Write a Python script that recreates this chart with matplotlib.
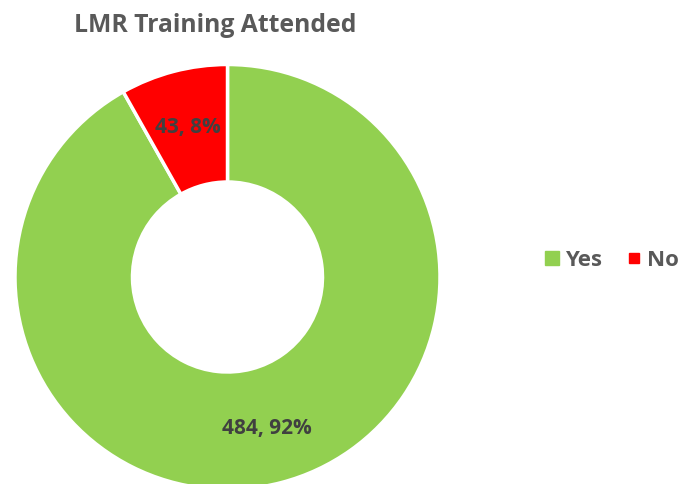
import matplotlib
matplotlib.use("Agg")
import matplotlib.pyplot as plt
from matplotlib.lines import Line2D

title = "LMR Training Attended"
categories = ["Yes", "No"]
values = [484, 43]
colors = ["#92D050", "#FF0000"]

FONT = ["Open Sans", "DejaVu Sans"]
plt.rcParams["font.family"] = FONT

W, H = 679, 485
fig = plt.figure(figsize=(W / 100, H / 100), dpi=100)
ax = fig.add_axes([0, 0, 1, 1])

total = sum(values)

def fmt(pct):
    v = int(round(pct * total / 100.0))
    return f"{v}, {pct:.0f}%"

cx, cy, R, r = 227.5, H - 278, 212.5, 95
wedges, texts, autotexts = ax.pie(
    values, colors=colors, startangle=90, counterclock=False,
    center=(cx, cy), radius=R, autopct=fmt, pctdistance=0.73,
    wedgeprops=dict(width=R - r, edgecolor="white", linewidth=2.5),
    textprops=dict(fontsize=15, fontweight="bold", color="#404040"),
    frame=True)
ax.set_xlim(0, W)
ax.set_ylim(0, H)
ax.set_aspect("equal")
ax.axis("off")

fig.text(215 / W, 1 - 25 / H, title, ha="center", va="center", fontsize=17.8,
         fontweight="bold", color="#595959")

handles = [Line2D([], [], marker="s", linestyle="none", markersize=ms,
                  markerfacecolor=c, markeredgecolor=c)
           for c, ms in zip(colors, [10.5, 7.2])]
fig.legend(handles, categories, loc="center left",
           bbox_to_anchor=(541 / W, 1 - 261 / H),
           ncol=2, frameon=False, handletextpad=0.1, columnspacing=0.9,
           handlelength=1.0, borderpad=0, borderaxespad=0,
           prop=dict(family=FONT, size=16, weight="bold"), labelcolor="#595959")

fig.savefig("out.png", dpi=100)
